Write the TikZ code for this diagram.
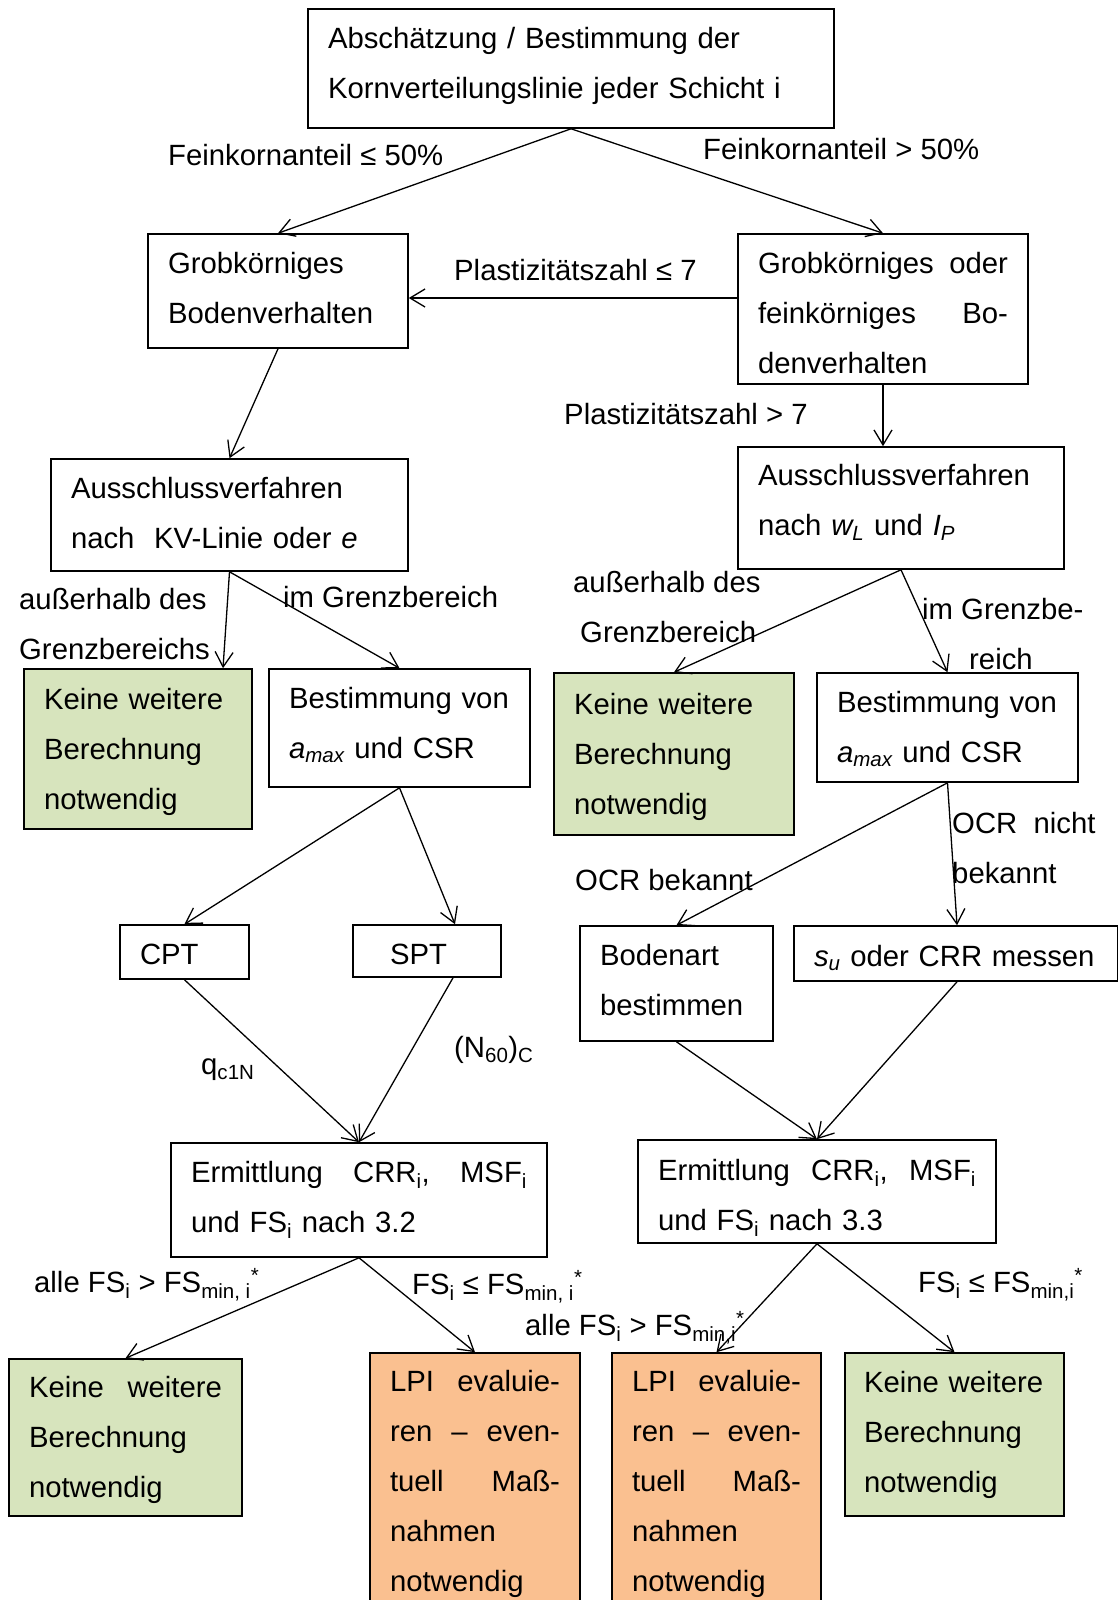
\documentclass[tikz,border=0pt]{standalone}
\usepackage{fontspec}
\setmainfont{Liberation Sans}
\usetikzlibrary{arrows.meta}
\hyphenpenalty=10000
\exhyphenpenalty=10000
\definecolor{gfill}{RGB}{215,228,189}
\definecolor{ofill}{RGB}{250,192,144}
\begin{document}
\begin{tikzpicture}[x=1pt,y=-1pt,
  every node/.style={font=\fontsize{29.3}{50}\selectfont, inner sep=0pt},
  bh/.store in=\boxbh, bd/.store in=\boxbd, bh=35pt, bd=15pt,
  box/.style={draw, line width=1.6pt, inner xsep=20pt, inner ysep=0pt, align=left,
    execute at begin node={\rule{0pt}{\boxbh}}, execute at end node={\rule[-\boxbd]{0pt}{\boxbd}}},
  lbl/.style={anchor=west, align=left, execute at begin node=\strut, execute at end node=\strut},
  arr/.style={line width=1.3pt, -{Straight Barb[length=15pt,width=18pt,line width=1.3pt]}},
  gbox/.style={box, fill=gfill},
  obox/.style={box, fill=ofill}]
\useasboundingbox[fill=white] (0,0) rectangle (1118,1600);

% boxes
\node[box, bd=25pt, text width=486pt, minimum height=119pt] (top) at (571,68.5)
  {Abschätzung / Bestimmung der\\Kornverteilungslinie jeder Schicht i};
\node[box, bd=21pt, text width=220pt, minimum height=114pt] (grobL) at (278,291)
  {Grobkörniges\\Bodenverhalten};
\node[box, bd=7pt, text width=250pt, minimum height=150pt] (grobR) at (883,309)
  {Grobkörniges\hfill oder\\feinkörniges\hfill Bo-\\denverhalten};
\node[box, bd=19pt, text width=317pt, minimum height=112pt] (ausL) at (229.5,515)
  {Ausschlussverfahren\\nach\ \ KV-Linie oder \textit{e}};
\node[box, bd=31pt, text width=286pt, minimum height=122pt] (ausR) at (901,508)
  {Ausschlussverfahren\\nach \textit{w\textsubscript{L}} und \textit{I\textsubscript{P}}};
\node[gbox, text width=188pt, minimum height=160pt] (greenL) at (138,749)
  {Keine weitere\\Berechnung\\notwendig};
\node[box, bd=24pt, text width=221pt, minimum height=118pt] (bestL) at (399.5,728)
  {Bestimmung von\\\textit{a\textsubscript{max}} und CSR};
\node[gbox, text width=200pt, minimum height=162pt] (greenM) at (674,754)
  {Keine weitere\\Berechnung\\notwendig};
\node[box, text width=221pt, minimum height=109pt] (bestR) at (947.5,727.5)
  {Bestimmung von\\\textit{a\textsubscript{max}} und CSR};
\node[box, bh=37pt, bd=13pt, text width=89pt, minimum height=54pt] (cpt) at (184.5,952) {CPT};
\node[box, bh=38pt, bd=12pt, text width=108pt, minimum height=52pt] (spt) at (427,951) {\hspace*{17pt}SPT};
\node[box, bd=21pt, text width=153pt, minimum height=115pt] (boden) at (676.5,983.5)
  {Bodenart\\bestimmen};
\node[box, bh=38pt, bd=12pt, text width=284pt, minimum height=55pt] (su) at (956,953.5)
  {\textit{s\textsubscript{u}} oder CRR messen};
\node[box, bd=21pt, text width=336pt, minimum height=114pt] (ermL) at (359,1200)
  {Ermittlung\hfill CRR\textsubscript{i},\hfill MSF\textsubscript{i}\\und FS\textsubscript{i} nach 3.2};
\node[box, bh=39pt, bd=11pt, text width=318pt, minimum height=103pt] (ermR) at (817,1191.5)
  {Ermittlung\hfill CRR\textsubscript{i},\hfill MSF\textsubscript{i}\\und FS\textsubscript{i} nach 3.3};
\node[gbox, text width=193pt, minimum height=157pt] (greenBL) at (125.5,1437.5)
  {Keine\hfill weitere\\Berechnung\\notwendig};
\node[obox, text width=170pt, minimum height=257pt] (lpiL) at (475,1481.5)
  {LPI\hfill evaluie-\\ren\hfill –\hfill even-\\tuell\hfill Maß-\\nahmen\\notwendig};
\node[obox, text width=169pt, minimum height=257pt] (lpiR) at (716.5,1481.5)
  {LPI\hfill evaluie-\\ren\hfill –\hfill even-\\tuell\hfill Maß-\\nahmen\\notwendig};
\node[gbox, bd=19pt, inner xsep=19pt, text width=181pt, minimum height=163pt] (greenBR) at (954.5,1434.5)
  {Keine weitere\\Berechnung\\notwendig};

% labels
\node[lbl] (l1) at (168,155) {Feinkornanteil ≤ 50\%};
\node[lbl] (l2) at (703,149) {Feinkornanteil > 50\%};
\node[lbl] (l3) at (454,270) {Plastizitätszahl ≤ 7};
\node[lbl] (l4) at (564,414) {Plastizitätszahl > 7};
\node[lbl] (l5) at (19,631) {außerhalb des\\Grenzbereichs};
\node[lbl] (l6) at (283,597) {im Grenzbereich};
\node[lbl] (l7) at (573,614.5) {außerhalb des\\\hspace*{7pt}Grenzbereich};
\node[lbl] (l8) at (922,641) {im Grenzbe-\\\hspace*{47pt}reich};
\node[lbl] (l9) at (952,855.5) {OCR\ \ nicht\\bekannt};
\node[lbl] (l10) at (575,880) {OCR bekannt};
\node[lbl] (l11) at (201,1064) {q\textsubscript{c1N}};
\node[lbl] (l12) at (454,1047) {(N\textsubscript{60})\textsubscript{C}};
\node[lbl] (l13) at (34,1282) {alle FS\textsubscript{i} > FS\textsubscript{min, i}\textsuperscript{*}};
\node[lbl] (l14) at (412,1284) {FS\textsubscript{i} ≤ FS\textsubscript{min, i}\textsuperscript{*}};
\node[lbl] (l15) at (525,1325) {alle FS\textsubscript{i} > FS\textsubscript{min,i}\textsuperscript{*}};
\node[lbl] (l16) at (918,1282) {FS\textsubscript{i} ≤ FS\textsubscript{min,i}\textsuperscript{*}};

% connectors
\coordinate (hline) at (0,298);
\draw[arr] (top.south) -- (grobL.north);
\draw[arr] (top.south) -- (grobR.north);
\draw[arr] (grobR.west |- hline) -- (grobL.east |- hline);
\draw[arr] (grobL.south) -- (ausL.north);
\draw[arr] (grobR.south) -- (grobR.south |- ausR.north);
\draw[arr] (ausL.south) -- ([xshift=85pt]greenL.north);
\draw[arr] (ausL.south) -- (bestL.north);
\draw[arr] (ausR.south) -- (greenM.north);
\draw[arr] (ausR.south) -- (bestR.north);
\draw[arr] (bestL.south) -- (cpt.north);
\draw[arr] (bestL.south) -- ([xshift=28pt]spt.north);
\draw[arr] (bestR.south) -- (boden.north);
\draw[arr] (bestR.south) -- ([xshift=1pt]su.north);
\draw[arr] (cpt.south) -- (ermL.north);
\draw[arr] ([xshift=26pt]spt.south) -- (ermL.north);
\draw[arr] (boden.south) -- (ermR.north);
\draw[arr] ([xshift=1pt]su.south) -- (ermR.north);
\draw[arr] (ermL.south) -- (greenBL.north);
\draw[arr] (ermL.south) -- (lpiL.north);
\draw[arr] (ermR.south) -- (lpiR.north);
\draw[arr] (ermR.south) -- (greenBR.north);
\end{tikzpicture}
\end{document}
